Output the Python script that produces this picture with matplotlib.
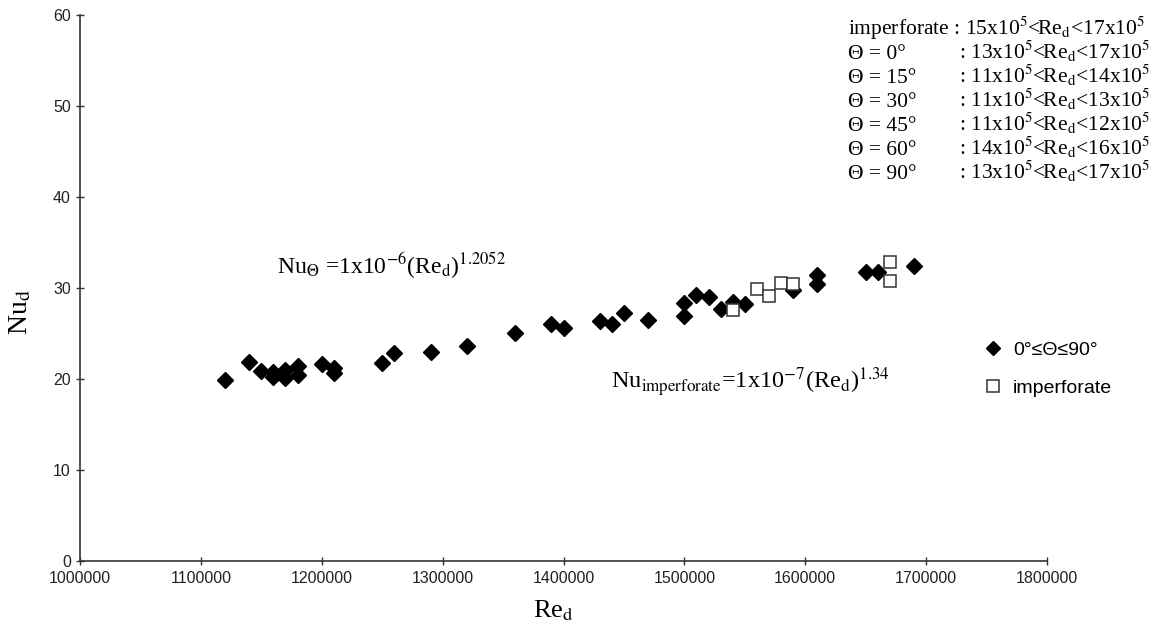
import matplotlib
matplotlib.use("Agg")
import matplotlib.pyplot as plt
from matplotlib.lines import Line2D

plt.rcParams['mathtext.fontset'] = 'stix'

# perforated plates, all angles 0..90 deg
re_theta = [1120000, 1140000, 1150000, 1160000, 1160000, 1170000, 1170000,
            1180000, 1180000, 1200000, 1210000, 1210000, 1250000, 1260000,
            1290000, 1320000, 1360000, 1390000, 1400000, 1430000, 1440000,
            1450000, 1470000, 1500000, 1500000, 1510000, 1520000, 1530000,
            1540000, 1550000, 1590000, 1610000, 1610000, 1650000, 1660000,
            1690000]
nu_theta = [19.9, 21.9, 20.9, 20.8, 20.2, 21.0, 20.1,
            21.4, 20.4, 21.6, 21.2, 20.7, 21.8, 22.9,
            23.0, 23.6, 25.1, 26.0, 25.6, 26.4, 26.0,
            27.2, 26.5, 28.4, 26.9, 29.2, 29.0, 27.7,
            28.5, 28.2, 29.8, 31.4, 30.4, 31.8, 31.8,
            32.4]

# imperforate plate
re_imp = [1540000, 1560000, 1570000, 1580000, 1590000, 1670000, 1670000]
nu_imp = [27.6, 29.9, 29.1, 30.6, 30.4, 32.9, 30.8]

x_ticks = [1000000, 1100000, 1200000, 1300000, 1400000, 1500000, 1600000, 1700000, 1800000]
y_ticks = [0, 10, 20, 30, 40, 50, 60]

range_labels = ["Θ = 0°", "Θ = 15°", "Θ = 30°", "Θ = 45°", "Θ = 60°", "Θ = 90°"]
range_values = [(13, 17), (11, 14), (11, 13), (11, 12), (14, 16), (13, 17)]

W, H = 1167, 622
fig = plt.figure(figsize=(W / 100, H / 100), dpi=100)
ax = fig.add_axes([80 / W, 1 - 561 / H, (1047 - 80) / W, (561 - 15) / H])

def fx(px):
    return px / W

def fy(py):
    return 1 - py / H

ax.plot(re_theta, nu_theta, linestyle='none', marker='D', ms=8.5,
        color='black', mec='black')
ax.plot(re_imp, nu_imp, linestyle='none', marker='s', ms=9,
        mfc='white', mec='#333333', mew=1.1)

ax.set_xlim(1000000, 1800000)
ax.set_ylim(0, 60)
ax.set_xticks(x_ticks)
ax.set_yticks(y_ticks)
ax.set_xticklabels([str(v) for v in x_ticks])
for s in ['top', 'right']:
    ax.spines[s].set_visible(False)
for s in ['left', 'bottom']:
    ax.spines[s].set_color('#333333')
    ax.spines[s].set_linewidth(1.2)
ax.tick_params(direction='inout', length=6, width=1, colors='#333333',
               labelsize=11.5, labelcolor='#222222')
for lab in ax.get_xticklabels() + ax.get_yticklabels():
    lab.set_family('Liberation Sans')
ax.tick_params(axis='x', pad=4)

serif = 'Liberation Serif'
fig.text(fx(533), fy(617), r'Re$_{\mathrm{d}}$', family=serif, fontsize=19,
         ha='left', va='baseline')
fig.text(fx(33), fy(312), r'Nu$_{\mathrm{d}}$', family=serif, fontsize=20,
         rotation=90, ha='right', va='center')

fig.text(fx(277), fy(274), r'Nu$_{\Theta}$ =1x10$^{-6}$(Re$_{\mathrm{d}}$)$^{1.2052}$',
         family=serif, fontsize=17, ha='left', va='baseline')
fig.text(fx(611), fy(389), r'Nu$_{\mathrm{imperforate}}$=1x10$^{-7}$(Re$_{\mathrm{d}}$)$^{1.34}$',
         family=serif, fontsize=17.5, ha='left', va='baseline')

# range box, top right
y0 = 35
step = 24.0
fs_box = 15.5
fig.text(fx(848), fy(y0), r'imperforate : 15x10$^{5}$<Re$_{\mathrm{d}}$<17x10$^{5}$',
         family=serif, fontsize=fs_box, ha='left', va='baseline')
for i, (lab, (lo, hi)) in enumerate(zip(range_labels, range_values)):
    yy = y0 + step * (i + 1)
    fig.text(fx(848), fy(yy), lab, family=serif, fontsize=fs_box,
             ha='left', va='baseline')
    fig.text(fx(959), fy(yy), r': %dx10$^{5}$<Re$_{\mathrm{d}}$<%dx10$^{5}$' % (lo, hi),
             family=serif, fontsize=fs_box, ha='left', va='baseline')

handles = [
    Line2D([], [], linestyle='none', marker='D', ms=7, color='black'),
    Line2D([], [], linestyle='none', marker='s', ms=8, mfc='white',
           mec='#333333', mew=1.1),
]
leg = fig.legend(handles, ['0°≤Θ≤90°', 'imperforate'], loc='upper left',
                 bbox_to_anchor=(fx(983), fy(341)), frameon=False,
                 prop={'family': 'Liberation Sans', 'size': 14},
                 labelspacing=1.05, handletextpad=0.55, handlelength=1.0,
                 borderaxespad=0, borderpad=0)

fig.savefig('out.png', dpi=100)
